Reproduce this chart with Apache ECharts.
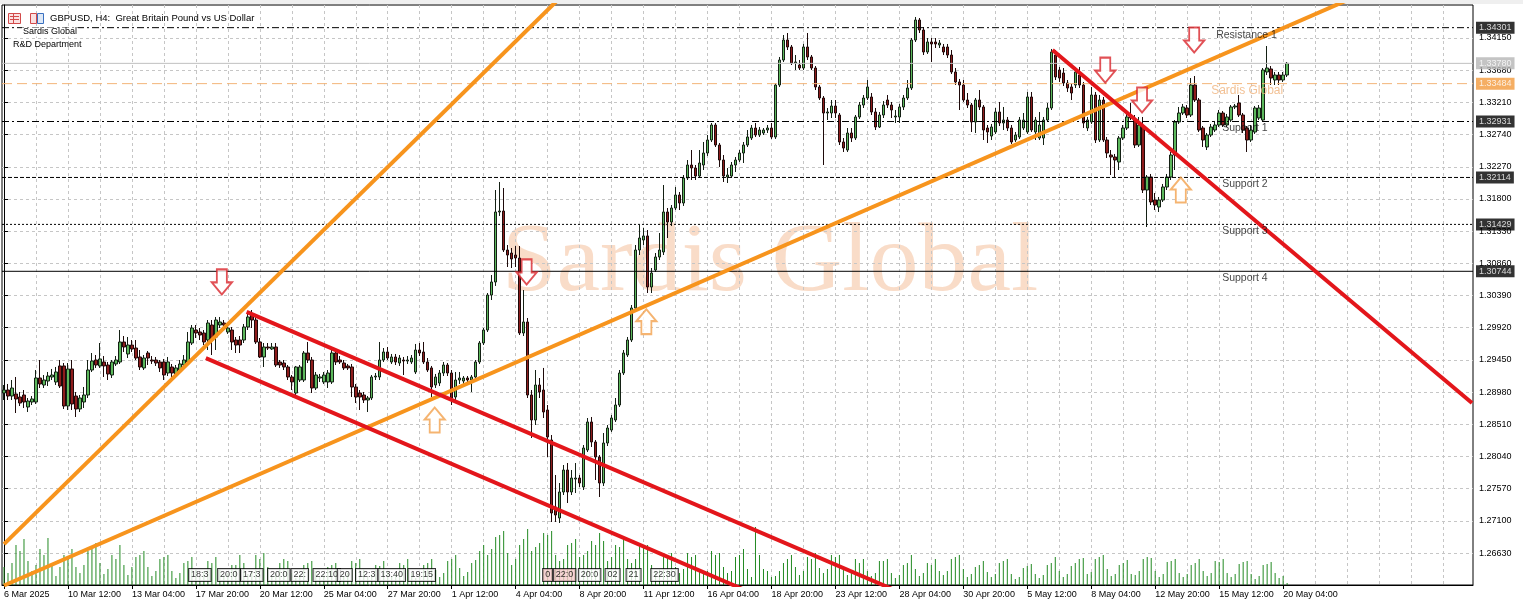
<!DOCTYPE html>
<html>
<head>
<meta charset="utf-8">
<title>GBPUSD, H4</title>
<script src="https://cdn.jsdelivr.net/npm/echarts@6/dist/echarts.min.js"></script>
<style>
html, body { margin: 0; padding: 0; background: #fff; }
#chart { width: 1523px; height: 608px; }
</style>
</head>
<body>
<div id="chart"></div>
<script>
// ---- time axis labels (one every 16 H4 bars) ----
const tickLabels = ['6 Mar 2025', '10 Mar 12:00', '13 Mar 04:00', '17 Mar 20:00', '20 Mar 12:00',
  '25 Mar 04:00', '27 Mar 20:00', '1 Apr 12:00', '4 Apr 04:00', '8 Apr 20:00', '11 Apr 12:00',
  '16 Apr 04:00', '18 Apr 20:00', '23 Apr 12:00', '28 Apr 04:00', '30 Apr 20:00', '5 May 12:00',
  '8 May 04:00', '12 May 20:00', '15 May 12:00', '20 May 04:00'];

// ---- price scale labels ----
const priceTicks = [1.26630, 1.27100, 1.27570, 1.28040, 1.28510, 1.28980, 1.29450, 1.29920, 1.30390,
  1.30860, 1.31330, 1.31800, 1.32270, 1.32740, 1.33210, 1.33680, 1.34150];

// ---- GBPUSD H4 candles ----
const opens = [
  1.28967,1.29011,1.28923,1.28953,1.28909,1.28938,1.28763,1.28836,1.28836,1.29186,
  1.29084,1.29142,1.29201,1.29128,1.29362,1.29362,1.28777,1.29318,1.28923,1.28734,
  1.28836,1.28938,1.29303,1.29449,1.29362,1.29420,1.29376,1.29230,1.29391,1.29420,
  1.29712,1.29537,1.29668,1.29624,1.29493,1.29333,1.29551,1.29449,1.29449,1.29420,
  1.29420,1.29259,1.29347,1.29245,1.29303,1.29376,1.29420,1.29697,1.29887,1.29858,
  1.29843,1.29741,1.29960,1.29785,1.29960,1.29989,1.29858,1.29887,1.29741,1.29741,
  1.29741,1.29931,1.30106,1.30033,1.29712,1.29493,1.29639,1.29610,1.29639,1.29420,
  1.29405,1.29347,1.29201,1.28967,1.29157,1.29157,1.29551,1.29449,1.29040,1.29186,
  1.29128,1.29128,1.29128,1.29551,1.29449,1.29405,1.29362,1.29347,1.29055,1.28967,
  1.28938,1.28865,1.28894,1.29201,1.29201,1.29449,1.29566,1.29420,1.29493,1.29405,
  1.29449,1.29434,1.29420,1.29274,1.29595,1.29566,1.29420,1.29333,1.29084,1.29113,
  1.29259,1.29376,1.29259,1.28909,1.29157,1.29142,1.29186,1.29157,1.29201,1.29420,
  1.29697,1.29887,1.30398,1.30588,1.31610,1.31624,1.31055,1.31011,1.30982,1.30938,
  1.29843,1.30004,1.28938,1.28573,1.29084,1.29011,1.28719,1.28281,1.27303,1.27142,
  1.27522,1.27843,1.27522,1.27711,1.27726,1.27595,1.28135,1.28544,1.28252,1.28033,
  1.27653,1.28237,1.28427,1.28573,1.28792,1.29259,1.29522,1.29741,1.30208,1.31055,
  1.31201,1.31260,1.30515,1.30763,1.30953,1.31026,1.31610,1.31464,1.31668,1.31858,
  1.31741,1.32106,1.32296,1.32252,1.32135,1.32296,1.32471,1.32661,1.32880,1.32588,
  1.32369,1.32121,1.32135,1.32296,1.32369,1.32471,1.32588,1.32690,1.32836,1.32734,
  1.32763,1.32807,1.32836,1.32705,1.33464,1.33829,1.34121,1.34019,1.33785,1.33756,
  1.33712,1.34019,1.33873,1.33712,1.33435,1.33274,1.33055,1.33055,1.33157,1.33026,
  1.32632,1.32515,1.32763,1.32690,1.32997,1.33172,1.33274,1.33289,1.33070,1.32851,
  1.33026,1.33245,1.33172,1.32997,1.32997,1.33143,1.33274,1.33420,1.34121,1.34413,
  1.34267,1.33946,1.34092,1.34092,1.34048,1.34019,1.34019,1.33902,1.33654,1.33508,
  1.33464,1.33245,1.33172,1.32924,1.33245,1.33143,1.32836,1.32719,1.32778,1.33070,
  1.32909,1.32953,1.32836,1.32661,1.32705,1.32836,1.32778,1.33289,1.32778,1.32690,
  1.32690,1.32953,1.33128,1.33902,1.33683,1.33639,1.33493,1.33435,1.33464,1.33610,
  1.33464,1.32836,1.32924,1.33318,1.32661,1.33245,1.32661,1.32442,1.32413,1.32340,
  1.32690,1.32836,1.32997,1.32953,1.32588,1.32851,1.31931,1.32121,1.31785,1.31683,
  1.31785,1.31975,1.32121,1.32442,1.32924,1.33055,1.33128,1.33026,1.33464,1.33245,
  1.32836,1.32559,1.32734,1.32807,1.32880,1.33055,1.32880,1.32953,1.33143,1.33201,
  1.33026,1.32836,1.32661,1.32778,1.32982,1.32953,1.33654,1.33698,1.33537,1.33610,
  1.33537,1.33610];

const closes = [
  1.29011,1.28923,1.29040,1.28880,1.28821,1.28836,1.28850,1.28880,1.29186,1.29099,
  1.29157,1.29215,1.29230,1.29274,1.29069,1.28777,1.29318,1.28807,1.28734,1.28894,
  1.28938,1.29303,1.29434,1.29376,1.29464,1.29362,1.29245,1.29420,1.29449,1.29712,
  1.29639,1.29668,1.29610,1.29478,1.29347,1.29478,1.29478,1.29434,1.29405,1.29333,
  1.29230,1.29420,1.29259,1.29333,1.29391,1.29449,1.29712,1.29916,1.29843,1.29814,
  1.29712,1.29989,1.29741,1.30033,1.30004,1.29960,1.29916,1.29712,1.29668,1.29668,
  1.29931,1.30077,1.30033,1.29712,1.29493,1.29639,1.29624,1.29639,1.29376,1.29376,
  1.29347,1.29201,1.29128,1.29347,1.29347,1.29551,1.29449,1.29040,1.29230,1.29201,
  1.29230,1.29259,1.29551,1.29420,1.29420,1.29333,1.29333,1.29055,1.28909,1.28909,
  1.28865,1.28894,1.29201,1.29215,1.29449,1.29566,1.29478,1.29493,1.29420,1.29478,
  1.29434,1.29449,1.29478,1.29595,1.29551,1.29420,1.29303,1.29055,1.29201,1.29259,
  1.29376,1.29259,1.28894,1.29157,1.29186,1.29186,1.29157,1.29201,1.29420,1.29697,
  1.29887,1.30398,1.30588,1.31610,1.31624,1.31055,1.30982,1.30924,1.30938,1.29843,
  1.30004,1.28938,1.28573,1.29084,1.28982,1.28690,1.28325,1.27215,1.27186,1.27522,
  1.27843,1.27522,1.27726,1.27726,1.27653,1.28164,1.28544,1.28252,1.28033,1.27653,
  1.28237,1.28456,1.28602,1.28792,1.29259,1.29551,1.29741,1.30208,1.31055,1.31230,
  1.31260,1.30515,1.30719,1.30953,1.31055,1.31610,1.31464,1.31668,1.31858,1.31741,
  1.32106,1.32296,1.32252,1.32135,1.32325,1.32471,1.32661,1.32880,1.32588,1.32369,
  1.32135,1.32150,1.32296,1.32369,1.32471,1.32588,1.32705,1.32836,1.32734,1.32807,
  1.32807,1.32836,1.32705,1.33464,1.33829,1.34121,1.34019,1.33785,1.33800,1.33712,
  1.34019,1.33873,1.33712,1.33435,1.33274,1.33055,1.33070,1.33157,1.33055,1.32632,
  1.32544,1.32763,1.32690,1.32997,1.33172,1.33274,1.33435,1.33070,1.32851,1.33026,
  1.33172,1.33172,1.33099,1.33011,1.33143,1.33274,1.33420,1.34121,1.34413,1.34267,
  1.33946,1.34092,1.34063,1.34063,1.34077,1.33946,1.33902,1.33654,1.33508,1.33464,
  1.33245,1.33172,1.32924,1.33245,1.33143,1.32807,1.32778,1.32851,1.33070,1.32909,
  1.32953,1.32836,1.32632,1.32734,1.32953,1.32953,1.33289,1.32807,1.32953,1.32880,
  1.32953,1.33128,1.33946,1.33581,1.33566,1.33493,1.33420,1.33347,1.33654,1.33464,
  1.32909,1.32953,1.33318,1.32661,1.33245,1.32661,1.32471,1.32413,1.32369,1.32690,
  1.32836,1.32997,1.32982,1.32588,1.32880,1.31931,1.32121,1.31756,1.31712,1.31785,
  1.31975,1.32121,1.32442,1.32924,1.33055,1.33143,1.33026,1.33464,1.33245,1.32807,
  1.32661,1.32734,1.32851,1.32880,1.33055,1.32880,1.32997,1.33143,1.33157,1.33026,
  1.32807,1.32661,1.32807,1.33128,1.33128,1.33683,1.33712,1.33566,1.33610,1.33537,
  1.33610,1.33780];

const lows = [
  1.28865,1.28865,1.28865,1.28675,1.28777,1.28748,1.28690,1.28792,1.28807,1.29040,
  1.29040,1.29069,1.29157,1.29084,1.29040,1.28734,1.28719,1.28719,1.28617,1.28690,
  1.28748,1.28894,1.29274,1.29333,1.29333,1.29201,1.29157,1.29186,1.29362,1.29391,
  1.29566,1.29478,1.29566,1.29449,1.29303,1.29303,1.29376,1.29391,1.29362,1.29274,
  1.29157,1.29215,1.29201,1.29201,1.29274,1.29347,1.29391,1.29668,1.29770,1.29741,
  1.29668,1.29595,1.29522,1.29595,1.29916,1.29916,1.29829,1.29595,1.29551,1.29551,
  1.29697,1.29887,1.29916,1.29683,1.29478,1.29347,1.29595,1.29595,1.29347,1.29333,
  1.29303,1.29157,1.29011,1.28938,1.29128,1.29128,1.29405,1.28967,1.29011,1.29128,
  1.29099,1.29040,1.29099,1.29376,1.29391,1.29303,1.29303,1.28909,1.28821,1.28719,
  1.28821,1.28690,1.28865,1.29157,1.29157,1.29420,1.29449,1.29391,1.29376,1.29362,
  1.29230,1.29391,1.29391,1.29245,1.29507,1.29391,1.29274,1.28909,1.29040,1.29069,
  1.29215,1.29215,1.28792,1.28865,1.29099,1.29099,1.29128,1.28982,1.29172,1.29391,
  1.29668,1.29858,1.30325,1.30530,1.31552,1.31026,1.30807,1.30792,1.30807,1.29814,
  1.29799,1.28894,1.28310,1.28500,1.28894,1.28602,1.28033,1.27084,1.27084,1.27069,
  1.27478,1.27361,1.27478,1.27507,1.27595,1.27551,1.28106,1.28179,1.27697,1.27449,
  1.27609,1.28193,1.28398,1.28544,1.28763,1.29230,1.29493,1.29712,1.30179,1.30982,
  1.31128,1.30427,1.30427,1.30734,1.30909,1.30982,1.31230,1.31405,1.31639,1.31639,
  1.31698,1.32077,1.32077,1.32077,1.32106,1.32223,1.32428,1.32632,1.32559,1.32267,
  1.32048,1.32033,1.32106,1.32194,1.32340,1.32325,1.32559,1.32661,1.32705,1.32705,
  1.32734,1.32763,1.32676,1.32676,1.33435,1.33800,1.33975,1.33756,1.33683,1.33683,
  1.33683,1.33829,1.33683,1.33391,1.33245,1.32296,1.32953,1.32982,1.32982,1.32588,
  1.32486,1.32486,1.32632,1.32661,1.32968,1.33128,1.33245,1.33026,1.32807,1.32836,
  1.32982,1.33128,1.32982,1.32909,1.32909,1.33099,1.33245,1.33391,1.34092,1.34223,
  1.33902,1.33917,1.33800,1.34004,1.34004,1.33902,1.33858,1.33625,1.33464,1.33099,
  1.33216,1.33128,1.32778,1.32763,1.33099,1.32661,1.32617,1.32661,1.32749,1.32865,
  1.32807,1.32792,1.32603,1.32632,1.32676,1.32807,1.32749,1.32778,1.32661,1.32661,
  1.32588,1.32924,1.33099,1.33537,1.33508,1.33449,1.33362,1.33245,1.33420,1.33420,
  1.32836,1.32792,1.32895,1.32617,1.32632,1.32632,1.32398,1.32150,1.32121,1.32223,
  1.32661,1.32807,1.32953,1.32544,1.32559,1.31887,1.31391,1.31712,1.31639,1.31610,
  1.31756,1.31931,1.32077,1.32223,1.32895,1.33026,1.32982,1.32997,1.33216,1.32778,
  1.32559,1.32515,1.32705,1.32778,1.32851,1.32851,1.32851,1.32924,1.33113,1.32997,
  1.32763,1.32486,1.32632,1.32749,1.32953,1.32924,1.33610,1.33464,1.33464,1.33464,
  1.33508,1.33581];

const highs = [
  1.29084,1.29099,1.29157,1.29201,1.28982,1.29011,1.28894,1.28923,1.29303,1.29449,
  1.29230,1.29274,1.29318,1.29347,1.29449,1.29405,1.29405,1.29449,1.28982,1.28938,
  1.29055,1.29449,1.29551,1.29522,1.29697,1.29507,1.29420,1.29449,1.29507,1.29887,
  1.29799,1.29785,1.29741,1.29741,1.29595,1.29522,1.29580,1.29507,1.29493,1.29449,
  1.29464,1.29493,1.29391,1.29376,1.29449,1.29522,1.29858,1.29960,1.29960,1.29916,
  1.29887,1.30033,1.30033,1.30077,1.30077,1.30033,1.29960,1.29931,1.29785,1.29799,
  1.29975,1.30150,1.30179,1.30077,1.29770,1.29697,1.29697,1.29697,1.29697,1.29449,
  1.29449,1.29376,1.29230,1.29362,1.29376,1.29580,1.29712,1.29493,1.29274,1.29245,
  1.29274,1.29303,1.29595,1.29595,1.29507,1.29449,1.29391,1.29391,1.29099,1.29011,
  1.28982,1.28923,1.29230,1.29259,1.29712,1.29624,1.29639,1.29537,1.29537,1.29522,
  1.29493,1.29507,1.29522,1.29683,1.29697,1.29712,1.29478,1.29362,1.29245,1.29303,
  1.29420,1.29405,1.29303,1.29274,1.29274,1.29215,1.29215,1.29230,1.29449,1.29726,
  1.29916,1.30427,1.30690,1.31931,1.32048,1.31960,1.31128,1.31084,1.31113,1.31113,
  1.30471,1.30062,1.29011,1.29303,1.29186,1.29333,1.28792,1.28354,1.27770,1.27653,
  1.27916,1.27945,1.27843,1.27945,1.27770,1.28208,1.28602,1.28617,1.28281,1.28062,
  1.28383,1.28500,1.28646,1.28894,1.29303,1.29595,1.29785,1.30252,1.31128,1.31420,
  1.31376,1.31347,1.30792,1.31011,1.31303,1.32004,1.31668,1.31712,1.31975,1.31902,
  1.32150,1.32369,1.32515,1.32296,1.32515,1.32632,1.32734,1.32909,1.32909,1.32617,
  1.32442,1.32252,1.32340,1.32413,1.32515,1.32632,1.32807,1.32880,1.32909,1.32851,
  1.32836,1.32880,1.32909,1.33493,1.33873,1.34194,1.34223,1.34048,1.33902,1.33829,
  1.34063,1.34223,1.33902,1.33741,1.33464,1.33303,1.33128,1.33245,1.33245,1.33055,
  1.32690,1.32836,1.32836,1.33026,1.33216,1.33318,1.33537,1.33347,1.33128,1.33070,
  1.33230,1.33318,1.33216,1.33099,1.33187,1.33318,1.33537,1.34150,1.34457,1.34442,
  1.34311,1.34150,1.34150,1.34150,1.34121,1.34063,1.34063,1.33975,1.33712,1.33552,
  1.33537,1.33347,1.33201,1.33274,1.33391,1.33172,1.32880,1.32895,1.33128,1.33216,
  1.33143,1.32997,1.32880,1.32778,1.32997,1.33055,1.33362,1.33362,1.32997,1.33070,
  1.32997,1.33201,1.33990,1.33975,1.33727,1.33712,1.33537,1.33479,1.33727,1.33727,
  1.33508,1.32997,1.33435,1.33362,1.33318,1.33289,1.32705,1.32515,1.32457,1.32719,
  1.32880,1.33070,1.33201,1.33026,1.32997,1.32997,1.32150,1.32165,1.31887,1.31829,
  1.32019,1.32165,1.32486,1.32953,1.33143,1.33187,1.33172,1.33566,1.33595,1.33274,
  1.32865,1.32763,1.32895,1.32939,1.33099,1.33084,1.33041,1.33172,1.33187,1.33318,
  1.33055,1.32865,1.32880,1.33157,1.33172,1.33712,1.34033,1.33741,1.33654,1.33654,
  1.33654,1.33800];

// ---- tick volumes ----
const volumes = [
  18000,
  12000,22000,40000,34000,46000,24000,  14000,20000,36000,30000,47000,20000,
  9000,18000,30000,28000,36000,18000,   12000,20000,34000,38000,42000,22000,
  11000,16000,30000,26000,40000,20000,  10000,18000,28000,30000,34000,18000,
  9000,14000,26000,28000,30000,14000,   7000,12000,22000,24000,28000,16000,
  9000,14000,24000,22000,28000,16000,   10000,12000,20000,20000,30000,22000,
  11000,14000,30000,26000,32000,18000,  9000,12000,22000,26000,24000,12000,
  7000,10000,20000,22000,24000,14000,   8000,10000,18000,20000,22000,13000,
  9000,12000,24000,22000,26000,16000,   8000,11000,20000,19000,24000,14000,
  9000,11000,22000,20000,26000,12000,   7000,11000,20000,22000,26000,15000,
  8000,12000,24000,26000,30000,17000,   9000,13000,22000,25000,34000,40000,
  30000,36000,48000,50000,54000,32000,  20000,26000,40000,46000,56000,34000,
  38000,42000,52000,50000,54000,30000,  24000,26000,40000,42000,46000,28000,
  30000,34000,44000,40000,52000,44000,  24000,28000,40000,38000,46000,26000,
  22000,26000,42000,38000,40000,20000,  14000,16000,30000,28000,32000,18000,
  12000,16000,32000,28000,30000,16000,  12000,14000,34000,30000,32000,18000,
  12000,14000,28000,30000,36000,16000,  8000,58000,30000,16000,14000,8000,
  9000,14000,22000,26000,30000,18000,   10000,14000,28000,26000,32000,17000,
  12000,16000,30000,28000,30000,16000,  10000,14000,26000,22000,26000,14000,
  9000,12000,24000,24000,26000,12000,   7000,10000,20000,22000,30000,16000,
  9000,12000,22000,20000,26000,14000,   10000,14000,26000,28000,30000,16000,
  8000,11000,18000,20000,24000,13000,   8000,11000,22000,24000,26000,11000,
  6000,8000,17000,19000,21000,11000,    7000,10000,20000,22000,28000,14000,
  8000,11000,19000,22000,26000,27000,   11000,13000,26000,28000,30000,16000,
  9000,11000,20000,22000,25000,11000,   10000,14000,26000,28000,27000,14000,
  8000,11000,23000,24000,26000,12000,   8000,11000,20000,22000,26000,14000,
  9000,12000,24000,23000,26000,12000,   8000,11000,21000,23000,24000,11000,
  6000,9000,20000,21000,23000,12000,
  7000,9000,2000];

// ---- horizontal levels ----
const levelNames = ['Resistance 1', 'Sardis Global', 'Support 1', 'Support 2', 'Support 3', 'Support 4'];
const levelValues = [1.34301, 1.33484, 1.32931, 1.32114, 1.31429, 1.30744];
const bidPrice = 1.33780;

// ---- trend lines: [bar index, price] end points ----
const steepSupport = [[0, 1.26761], [145, 1.35076]];
const risingSupport = [[0, 1.26157], [340, 1.34803]];
const channelUpper = [[60.7, 1.30152], [230, 1.25910]];
const channelLower = [[50.5, 1.29477], [200, 1.25722]];
const mayResistance = [[262.3, 1.33975], [367.25, 1.28821]];

// ---- signal arrows: [bar index, price] ----
const sellSignals = [[54.5, 1.30588], [130.75, 1.30734], [275.5, 1.33680], [284.7, 1.33245], [297.75, 1.34121]];
const buySignals = [[107.75, 1.28573], [160.7, 1.30008], [294.4, 1.31931]];

// ---- economic calendar events ----
const calendarBars = [49, 56.25, 62, 68.75, 74, 80.75, 85.25, 90.75, 97, 104.5,
  136, 140.25, 146.5, 152.25, 157.5, 165.25];
const calendarTexts = ['18:3', '20:0', '17:3', '20:0', '22:', '22:10', '20', '12:3', '13:40', '19:15',
  '0', '22:0', '20:0', '02', '21', '22:30'];
const calendarHighImpact = [false, false, false, false, false, false, false, false, false, false,
  true, true, false, false, false, false];

// ---------------------------------------------------------------
const FONT = '"Liberation Sans", Arial, sans-serif';
const barSlots = 368;                 // bars plus the empty shift on the right
const xMin = -0.5, xMax = barSlots - 0.5;
const categories = Array.from({ length: barSlots }, (_, i) => String(i));
const candleData = opens.map((o, i) => [o, closes[i], lows[i], highs[i]]);
const labelBars = tickLabels.map((_, i) => i * 16);
const gridBars = [];
for (let b = 0; b <= 360; b += 8) gridBars.push(b);

const levelStyle = [
  { color: '#000', type: [7, 3, 2, 3], tag: '#000', text: '#111', size: 10.5, bar: 303.25 },
  { color: '#f3b57a', type: [10, 5], tag: '#f39a3c', text: '#efb27a', size: 12, bar: 302 },
  { color: '#000', type: [7, 3, 2, 3], tag: '#000', text: '#111', size: 10.5, bar: 304.75 },
  { color: '#000', type: [4, 2], tag: '#000', text: '#111', size: 10.5, bar: 304.75 },
  { color: '#000', type: [2, 2], tag: '#000', text: '#111', size: 10.5, bar: 304.75 },
  { color: '#000', type: 'solid', tag: '#000', text: '#111', size: 10.5, bar: 304.75 }
];

// every horizontal level (plus the bid line) as a full-width line on the bar/price axes
const hLines = levelValues.map((v, i) => ({ value: v, color: levelStyle[i].color, type: levelStyle[i].type, tag: levelStyle[i].tag }));
hLines.push({ value: bidPrice, color: '#c0c0c0', type: 'solid', tag: '#b5b5b5' });

const levelLineSeries = hLines.map((h) => ({
  type: 'line', xAxisIndex: 1, yAxisIndex: 0, data: [[xMin, h.value], [xMax, h.value]],
  symbol: 'none', showSymbol: false, silent: true, z: 4,
  lineStyle: { color: h.color, type: h.type, width: 1 }
}));

// price tags on the right-hand scale
const priceTagSeries = {
  type: 'scatter', xAxisIndex: 1, yAxisIndex: 0, symbolSize: 0, clip: false, silent: true, z: 9,
  data: hLines.map((h) => ({
    value: [xMax, h.value],
    label: { formatter: h.value.toFixed(5), backgroundColor: h.tag }
  })),
  label: {
    show: true, position: 'right', distance: 3, color: '#fff', padding: [2, 3, 1, 3],
    fontSize: 9, fontFamily: FONT
  }
};

const downArrow = 'path://M5,0 L15,0 L15,13 L20,13 L10,25 L0,13 L5,13 Z';
const upArrow = 'path://M10,0 L20,12 L15,12 L15,25 L5,25 L5,12 L0,12 Z';

function trend(points, color) {
  return {
    type: 'line', xAxisIndex: 1, yAxisIndex: 0, data: points, symbol: 'none', showSymbol: false,
    clip: true, silent: true, z: 5, lineStyle: { color: color, width: 4 }
  };
}

const chart = echarts.init(document.getElementById('chart'), null, { renderer: 'canvas' });

chart.setOption({
  animation: false,
  backgroundColor: '#fff',
  grid: { left: 2, right: 50, top: 5, bottom: 23, show: true, borderColor: '#000', borderWidth: 1 },
  xAxis: [
    { type: 'category', data: categories, boundaryGap: true, show: false },
    {
      type: 'value', min: xMin, max: xMax, position: 'bottom',
      axisLine: { show: true, lineStyle: { color: '#000', width: 1 } },
      axisTick: { show: false, customValues: gridBars },
      axisLabel: {
        customValues: labelBars, formatter: (v) => tickLabels[Math.round(v / 16)],
        align: 'left', margin: 5, fontSize: 9, fontFamily: FONT, color: '#000'
      },
      splitLine: { show: true, lineStyle: { color: '#c6c6c6', type: [3, 3], width: 1 } }
    },
    {
      type: 'value', min: xMin, max: xMax, position: 'bottom',
      axisLine: { show: false },
      axisTick: { show: true, customValues: labelBars, length: 4, lineStyle: { color: '#000' } },
      axisLabel: { show: false },
      splitLine: { show: false }
    }
  ],
  yAxis: [
    {
      type: 'value', position: 'right', min: 1.26164, max: 1.34632,
      axisLine: { show: true, lineStyle: { color: '#000', width: 1 } },
      axisTick: { show: true, customValues: priceTicks, length: 4, lineStyle: { color: '#000' } },
      axisLabel: {
        customValues: priceTicks, formatter: (v) => v.toFixed(5),
        margin: 6, fontSize: 9, fontFamily: FONT, color: '#000'
      },
      splitLine: { show: true, lineStyle: { color: '#c6c6c6', type: [3, 3], width: 1 } }
    },
    { type: 'value', min: 0, max: 580000, show: false }
  ],
  graphic: [
    { type: 'rect', shape: { x: 0, y: 0, width: 1523, height: 4 }, style: { fill: '#efefef' }, silent: true },
    {
      type: 'text', x: 770, y: 264, z: -1, silent: true,
      style: { text: 'Sardis Global', font: '98px "Liberation Serif", serif', fill: '#f9dcc8',
        align: 'center', verticalAlign: 'middle' }
    },
    { type: 'rect', shape: { x: 8.5, y: 13.5, width: 12, height: 10 }, z: 50,
      style: { fill: '#fbe1e1', stroke: '#d24a4a', lineWidth: 1 } },
    { type: 'polyline', shape: { points: [[10, 16.5], [19, 16.5]] }, z: 51, style: { stroke: '#d24a4a', lineWidth: 1 } },
    { type: 'polyline', shape: { points: [[10, 19.5], [19, 19.5]] }, z: 51, style: { stroke: '#d24a4a', lineWidth: 1 } },
    { type: 'polyline', shape: { points: [[13.5, 14], [13.5, 23]] }, z: 51, style: { stroke: '#d24a4a', lineWidth: 1 } },
    { type: 'rect', shape: { x: 30.5, y: 13.5, width: 6, height: 10 }, z: 50,
      style: { fill: '#fbe1e1', stroke: '#d24a4a', lineWidth: 1 } },
    { type: 'rect', shape: { x: 37.5, y: 13.5, width: 6, height: 10 }, z: 50,
      style: { fill: '#dde8f6', stroke: '#3a70c0', lineWidth: 1 } },
    {
      type: 'text', x: 50, y: 18.5, z: 50,
      style: { text: 'GBPUSD, H4:  Great Britain Pound vs US Dollar', font: '9.5px ' + FONT,
        fill: '#000', verticalAlign: 'middle' }
    },
    {
      type: 'text', x: 22, y: 32, z: 50,
      style: { text: 'Sardis Global', font: '9px ' + FONT, fill: '#000', verticalAlign: 'middle',
        backgroundColor: '#fff', padding: [0, 1] }
    },
    {
      type: 'text', x: 13, y: 45, z: 50,
      style: { text: 'R&D Department', font: '9px ' + FONT, fill: '#000', verticalAlign: 'middle' }
    }
  ],
  series: [
    {
      name: 'Volume', type: 'bar', xAxisIndex: 0, yAxisIndex: 1, data: volumes,
      barWidth: 1, silent: true, z: 1, itemStyle: { color: '#238a23' }
    },
    {
      name: 'GBPUSD', type: 'candlestick', xAxisIndex: 0, yAxisIndex: 0, data: candleData,
      barWidth: 3, z: 3, silent: true,
      itemStyle: { color: '#5cb85c', color0: '#8e1c1c', borderColor: '#142014', borderColor0: '#1e0a0a', borderWidth: 1 }
    }
  ].concat(levelLineSeries, [
    trend(steepSupport, '#f7941d'),
    trend(risingSupport, '#f7941d'),
    trend(channelUpper, '#e3161b'),
    trend(channelLower, '#e3161b'),
    trend(mayResistance, '#e3161b'),
    {
      type: 'scatter', xAxisIndex: 1, yAxisIndex: 0, data: sellSignals, symbol: downArrow,
      symbolSize: [20, 25], silent: true, z: 6,
      itemStyle: { color: '#fff', borderColor: '#d9262c', borderWidth: 2 }
    },
    {
      type: 'scatter', xAxisIndex: 1, yAxisIndex: 0, data: buySignals, symbol: upArrow,
      symbolSize: [20, 25], silent: true, z: 6,
      itemStyle: { color: '#fff', borderColor: '#f2a14e', borderWidth: 2 }
    },
    {
      type: 'scatter', xAxisIndex: 1, yAxisIndex: 0, symbolSize: 0, silent: true, z: 7,
      data: levelNames.map((n, i) => ({
        value: [levelStyle[i].bar, levelValues[i]],
        label: { formatter: n, color: levelStyle[i].text, fontSize: levelStyle[i].size }
      })),
      label: { show: true, position: 'right', distance: 0, offset: [0, 7], fontFamily: FONT }
    },
    {
      type: 'scatter', xAxisIndex: 1, yAxisIndex: 0, symbolSize: 0, silent: true, z: 7,
      data: calendarBars.map((b, i) => ({
        value: [b, 1.2631],
        label: { formatter: calendarTexts[i], backgroundColor: calendarHighImpact[i] ? '#f8cccc' : '#fff' }
      })),
      label: {
        show: true, position: 'inside', color: '#000', fontSize: 9, fontFamily: FONT,
        borderColor: '#000', borderWidth: 1, padding: [2, 2, 1, 2]
      }
    },
    priceTagSeries
  ])
});
</script>
</body>
</html>
